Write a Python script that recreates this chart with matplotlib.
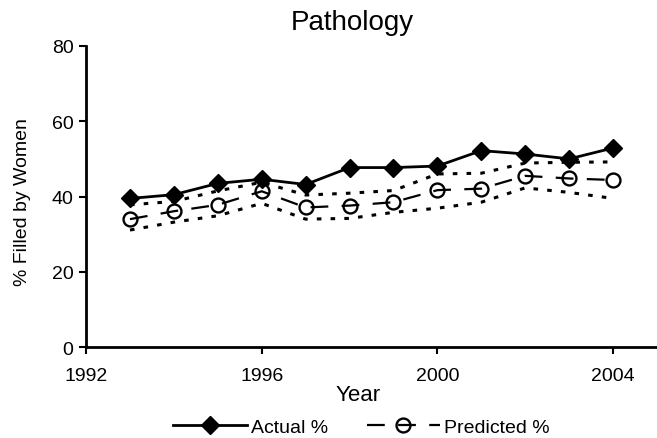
import matplotlib
matplotlib.use("Agg")
import matplotlib.pyplot as plt

plt.rcParams['font.family'] = ['Liberation Sans', 'DejaVu Sans']

years = [1993, 1994, 1995, 1996, 1997, 1998, 1999, 2000, 2001, 2002, 2003, 2004]
actual = [39.5, 40.5, 43.5, 44.6, 43.2, 47.7, 47.7, 48.1, 52.2, 51.3, 50.0, 52.9]
predicted = [34.0, 36.1, 37.8, 41.4, 37.1, 37.6, 38.5, 41.7, 42.1, 45.5, 44.8, 44.4]
upper = [37.8, 38.7, 41.5, 43.8, 40.4, 40.9, 41.6, 46.0, 46.2, 48.9, 49.1, 49.2]
lower = [31.1, 33.2, 34.9, 38.2, 34.0, 34.2, 35.8, 36.9, 38.5, 42.3, 41.1, 39.5]

x_ticks = [1992, 1996, 2000, 2004]
y_ticks = [0, 20, 40, 60, 80]

fig = plt.figure(figsize=(6.57, 4.39), dpi=100)
ax = fig.add_axes([0.131, 0.207, 0.869, 0.686])

# confidence band (dotted)
ax.plot(years, upper, color='black', lw=2.2, linestyle=(0, (1.5, 3)))
ax.plot(years, lower, color='black', lw=2.2, linestyle=(0, (1.5, 3)))

ax.plot(years, actual, color='black', lw=2, marker='D', markersize=9,
        markerfacecolor='black', label='Actual %')
ax.plot(years, predicted, color='black', lw=1.6, linestyle=(0, (8, 6)),
        marker='o', markersize=10, fillstyle='none', markeredgewidth=1.7,
        label='Predicted %')

ax.set_xlim(1992, 2005)
ax.set_ylim(0, 80)
ax.set_xticks(x_ticks)
ax.set_yticks(y_ticks)
ax.tick_params(direction='out', length=5, width=1.5, labelsize=14)
ax.tick_params(axis='x', pad=9)
ax.tick_params(axis='y', pad=4)
for side in ['top', 'right']:
    ax.spines[side].set_visible(False)
for side in ['left', 'bottom']:
    ax.spines[side].set_linewidth(2)

fig.text(0.537, 0.948, 'Pathology', ha='center', va='center', fontsize=20)
fig.text(0.545, 0.1, 'Year', ha='center', va='center', fontsize=16)
fig.text(0.034, 0.54, '% Filled by Women', ha='center', va='center',
         rotation=90, fontsize=14)

fig.legend(loc='center', bbox_to_anchor=(0.55, 0.025), ncol=2, frameon=False,
           fontsize=14, handlelength=3.8, columnspacing=2.0, handletextpad=0.2,
           borderpad=0.1)

fig.savefig('out.png', dpi=100, facecolor='white')
